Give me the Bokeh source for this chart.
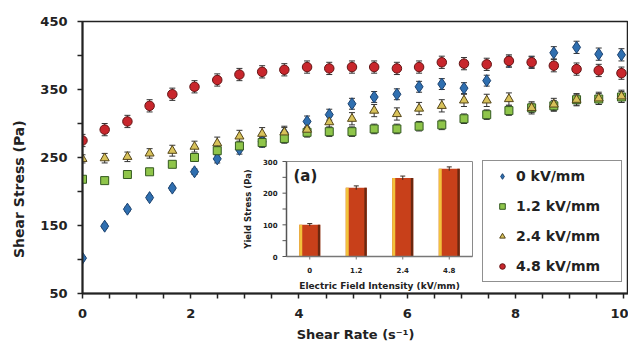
import math
from bokeh.plotting import figure
from bokeh.models import (ColumnDataSource, Range1d, FixedTicker, Whisker, TeeHead,
                          Legend, LegendItem, Title)
from bokeh.core.properties import value
from bokeh.embed import file_html
from bokeh.resources import INLINE

# ---------------- data ----------------
shear_rate = [0.0, 0.41, 0.83, 1.24, 1.66, 2.07, 2.49, 2.90, 3.32, 3.73, 4.15, 4.56, 4.98,
              5.39, 5.81, 6.22, 6.64, 7.05, 7.47, 7.88, 8.30, 8.71, 9.13, 9.54, 9.96]
stress_0 = [102, 149, 174, 191, 205, 229, 248, 262, 273, 286, 303, 313, 329, 339, 343, 354,
            358, 352, 363, 391, 390, 404, 412, 402, 401]
stress_12 = [218, 216, 225, 229, 240, 250, 260, 267, 272, 278, 287, 288, 288, 292, 292, 296,
             298, 307, 313, 319, 323, 326, 335, 336, 339]
stress_24 = [248, 249, 251, 256, 260, 266, 271, 281, 285, 287, 291, 302, 307, 319, 314, 322,
             326, 334, 334, 336, 323, 328, 335, 337, 340]
stress_48 = [275, 291, 303, 326, 343, 354, 364, 372, 376, 379, 383, 381, 383, 383, 381, 383,
             390, 388, 387, 392, 390, 385, 380, 378, 374]
err_0 = [2, 3, 3, 3, 3, 4, 6, 7, 7, 8, 8, 8, 8, 8, 8, 8, 8, 8, 8, 8, 8, 9, 9, 9, 9]
err_12 = [3, 3, 3, 3, 4, 5, 6, 7, 7, 7, 7, 7, 7, 7, 7, 7, 7, 7, 7, 7, 7, 8, 8, 8, 8]
err_24 = [6, 7, 7, 7, 8, 8, 9, 9, 9, 9, 9, 9, 9, 9, 9, 9, 9, 9, 9, 9, 9, 9, 9, 9, 9]
err_48 = [9, 9, 9, 9, 9, 9, 9, 9, 9, 9, 9, 9, 9, 9, 9, 9, 9, 9, 9, 9, 9, 9, 9, 9, 9]
series_labels = ["0 kV/mm", "1.2 kV/mm", "2.4 kV/mm", "4.8 kV/mm"]

x_ticks = [0, 2, 4, 6, 8, 10]
x_minor = [0.5, 1, 1.5, 2.5, 3, 3.5, 4.5, 5, 5.5, 6.5, 7, 7.5, 8.5, 9, 9.5]
y_ticks = [50, 150, 250, 350, 450]
y_minor = [100, 200, 300, 400]

# inset (a)
field_labels = ["0", "1.2", "2.4", "4.8"]
yield_stress = [100, 217, 248, 277]
yield_err = [4, 6, 6, 6]
inset_y_ticks = [0, 100, 200, 300]
inset_y_minor = [50, 150, 250]

FONT = "DejaVu Sans"
INK = "#222222"

# ---------------- geometry ----------------
W, H = 628, 348
BL, BT, BB = 82, 21, 55
FRAME_W = W - BL
FRAME_H = H - BT - BB
# inset frame in pixels, relative to main frame left/top
IN_L, IN_R, IN_T, IN_B = 204, 390, 140, 235
IX_PX = (IN_R - IN_L) / len(field_labels)
IY_PX = (IN_B - IN_T) / inset_y_ticks[-1]
ix_range = Range1d(-IN_L / IX_PX, len(field_labels) + (FRAME_W - IN_R) / IX_PX)
iy_range = Range1d(-(FRAME_H - IN_B) / IY_PX, inset_y_ticks[-1] + IN_T / IY_PX)

p = figure(width=W, height=H, x_range=Range1d(0, 10.09), y_range=Range1d(50, 450),
           output_backend="svg", toolbar_location=None,
           min_border_left=BL, min_border_right=0, min_border_top=BT, min_border_bottom=BB)
p.extra_x_ranges = {"ix": ix_range}
p.extra_y_ranges = {"iy": iy_range}
p.xgrid.visible = False
p.ygrid.visible = False
p.outline_line_color = INK
p.outline_line_width = 1.5
p.background_fill_color = "white"
p.border_fill_color = "white"

p.xaxis.ticker = FixedTicker(ticks=x_ticks, minor_ticks=x_minor)
p.yaxis.ticker = FixedTicker(ticks=y_ticks, minor_ticks=y_minor)
p.yaxis.axis_label = "Shear Stress (Pa)" + "\u00a0" * 13
for ax in (p.xaxis[0], p.yaxis[0]):
    ax.axis_line_width = 2
    ax.axis_line_color = INK
    ax.major_tick_line_color = INK
    ax.minor_tick_line_color = INK
    ax.major_tick_line_width = 1.5
    ax.minor_tick_line_width = 1.5
    ax.major_tick_in = 0
    ax.minor_tick_in = 0
    ax.major_tick_out = 5
    ax.minor_tick_out = 5
    ax.major_label_text_font = FONT
    ax.major_label_text_font_style = "bold"
    ax.major_label_text_font_size = "13px"
    ax.major_label_text_color = INK
    ax.axis_label_text_font = FONT
    ax.axis_label_text_font_style = "bold"
    ax.axis_label_text_color = INK
p.yaxis.axis_label_text_font_size = "14px"
p.xaxis.major_label_standoff = 10
p.yaxis.major_label_standoff = 10
p.yaxis.axis_label_standoff = 10

# x-axis title as a title in the bottom panel
p.add_layout(Title(text="Shear Rate (s\u207b\u00b9)", align="center", offset=9, standoff=9,
                   text_font=FONT, text_font_style="bold", text_font_size="13px",
                   text_color=INK), "below")

# ---------------- scatter series with error bars ----------------
styles = [
    (stress_0, err_0, "diamond", 12, "#2f6fb0", "#1b4270"),
    (stress_12, err_12, "square", 8, "#8fc54a", "#345a20"),
    (stress_24, err_24, "triangle", 9, "#d8c25a", "#55461a"),
    (stress_48, err_48, "circle", 9.5, "#c8262c", "#641414"),
]
legend_items = []
for (vals, errs, marker, size, fill, line), lab in zip(styles, series_labels):
    src = ColumnDataSource(dict(x=shear_rate, y=vals,
                                lo=[v - e for v, e in zip(vals, errs)],
                                hi=[v + e for v, e in zip(vals, errs)]))
    w = Whisker(source=src, base="x", upper="hi", lower="lo", line_color="#333333",
                line_width=1, level="underlay",
                upper_head=TeeHead(size=6, line_color="#333333", line_width=1),
                lower_head=TeeHead(size=6, line_color="#333333", line_width=1))
    p.add_layout(w)
    p.scatter("x", "y", source=src, marker=marker, size=size, fill_color=fill,
              line_color=line, line_width=1)
    # smaller proxy glyph (not drawn in the plot) used only for the legend key
    proxy = p.scatter(x=[float("nan")], y=[float("nan")], marker=marker, size=size * 0.75,
                      fill_color=fill, line_color=line, line_width=1)
    legend_items.append(LegendItem(label=lab, renderers=[proxy]))

# ---------------- inset (a) ----------------
n = len(field_labels)
bx = [i + 0.5 for i in range(n)]
kw = dict(x_range_name="ix", y_range_name="iy")
p.quad(left=[0], right=[n], bottom=[0], top=[inset_y_ticks[-1]], fill_color="white",
       line_color="#8a8a8a", line_width=1, **kw)
bw = 21 / IX_PX
p.vbar(x=bx, top=yield_stress, bottom=0, width=bw, fill_color="#c8401a", line_color=None, **kw)
p.vbar(x=[b - bw / 2 + 1.5 / IX_PX for b in bx], top=yield_stress, bottom=0, width=3 / IX_PX,
       fill_color="#f2c23c", line_color=None, **kw)
p.vbar(x=[b + bw / 2 - 1.2 / IX_PX for b in bx], top=yield_stress, bottom=0, width=2.4 / IX_PX,
       fill_color="#6a2810", line_color=None, **kw)
p.segment(x0=bx, x1=bx, y0=[v - e for v, e in zip(yield_stress, yield_err)],
          y1=[v + e for v, e in zip(yield_stress, yield_err)], line_color="#3a2a20",
          line_width=1, **kw)
p.scatter(bx, [v + e for v, e in zip(yield_stress, yield_err)], marker="dash", size=5,
          line_color="#3a2a20", **kw)
# inset axes
p.segment(x0=[0], x1=[0], y0=[0], y1=[inset_y_ticks[-1]], line_color="#555555", line_width=1.5, **kw)
p.segment(x0=[0], x1=[n], y0=[0], y1=[0], line_color="#777777", line_width=1.5, **kw)
all_iy = sorted(inset_y_ticks + inset_y_minor)
p.segment(x0=[0] * len(all_iy), x1=[-4 / IX_PX] * len(all_iy), y0=all_iy, y1=all_iy,
          line_color="#555555", line_width=1, **kw)
p.segment(x0=bx, x1=bx, y0=[0] * n, y1=[-3 / IY_PX] * n, line_color="#777777", line_width=1, **kw)
tfont = dict(text_font=value(FONT), text_font_style="bold", text_color=INK)
p.text(x=[-9 / IX_PX] * len(inset_y_ticks), y=inset_y_ticks, text=[str(t) for t in inset_y_ticks],
       text_align="right", text_baseline="middle", text_font_size="7px", **tfont, **kw)
p.text(x=bx, y=[-13 / IY_PX] * n, text=field_labels, text_align="center",
       text_baseline="middle", text_font_size="7px", **tfont, **kw)
p.text(x=[n / 2], y=[-29 / IY_PX], text=["Electric Field Intensity (kV/mm)"],
       text_align="center", text_baseline="middle", text_font_size="9px", **tfont, **kw)
p.text(x=[-39 / IX_PX], y=[inset_y_ticks[-1] / 2], text=["Yield Stress (Pa)"], angle=math.pi / 2,
       text_align="center", text_baseline="middle", text_font_size="8.5px", **tfont, **kw)
p.text(x=[7 / IX_PX], y=[inset_y_ticks[-1] - 14 / IY_PX], text=["(a)"], text_align="left",
       text_baseline="middle", text_font_size="15px", **tfont, **kw)

# ---------------- legend ----------------
legend = Legend(items=legend_items, location=(400, 11), orientation="vertical")
legend.border_line_color = INK
legend.border_line_width = 1.5
legend.background_fill_color = "white"
legend.background_fill_alpha = 1
legend.label_text_font = FONT
legend.label_text_font_style = "bold"
legend.label_text_font_size = "14px"
legend.label_text_color = INK
legend.padding = 5
legend.spacing = 10
legend.label_height = 20
legend.glyph_height = 14
legend.glyph_width = 28
legend.label_standoff = 0
legend.label_width = 100
legend.margin = 0
p.add_layout(legend)

open("out.html", "w").write(file_html(p, INLINE))
